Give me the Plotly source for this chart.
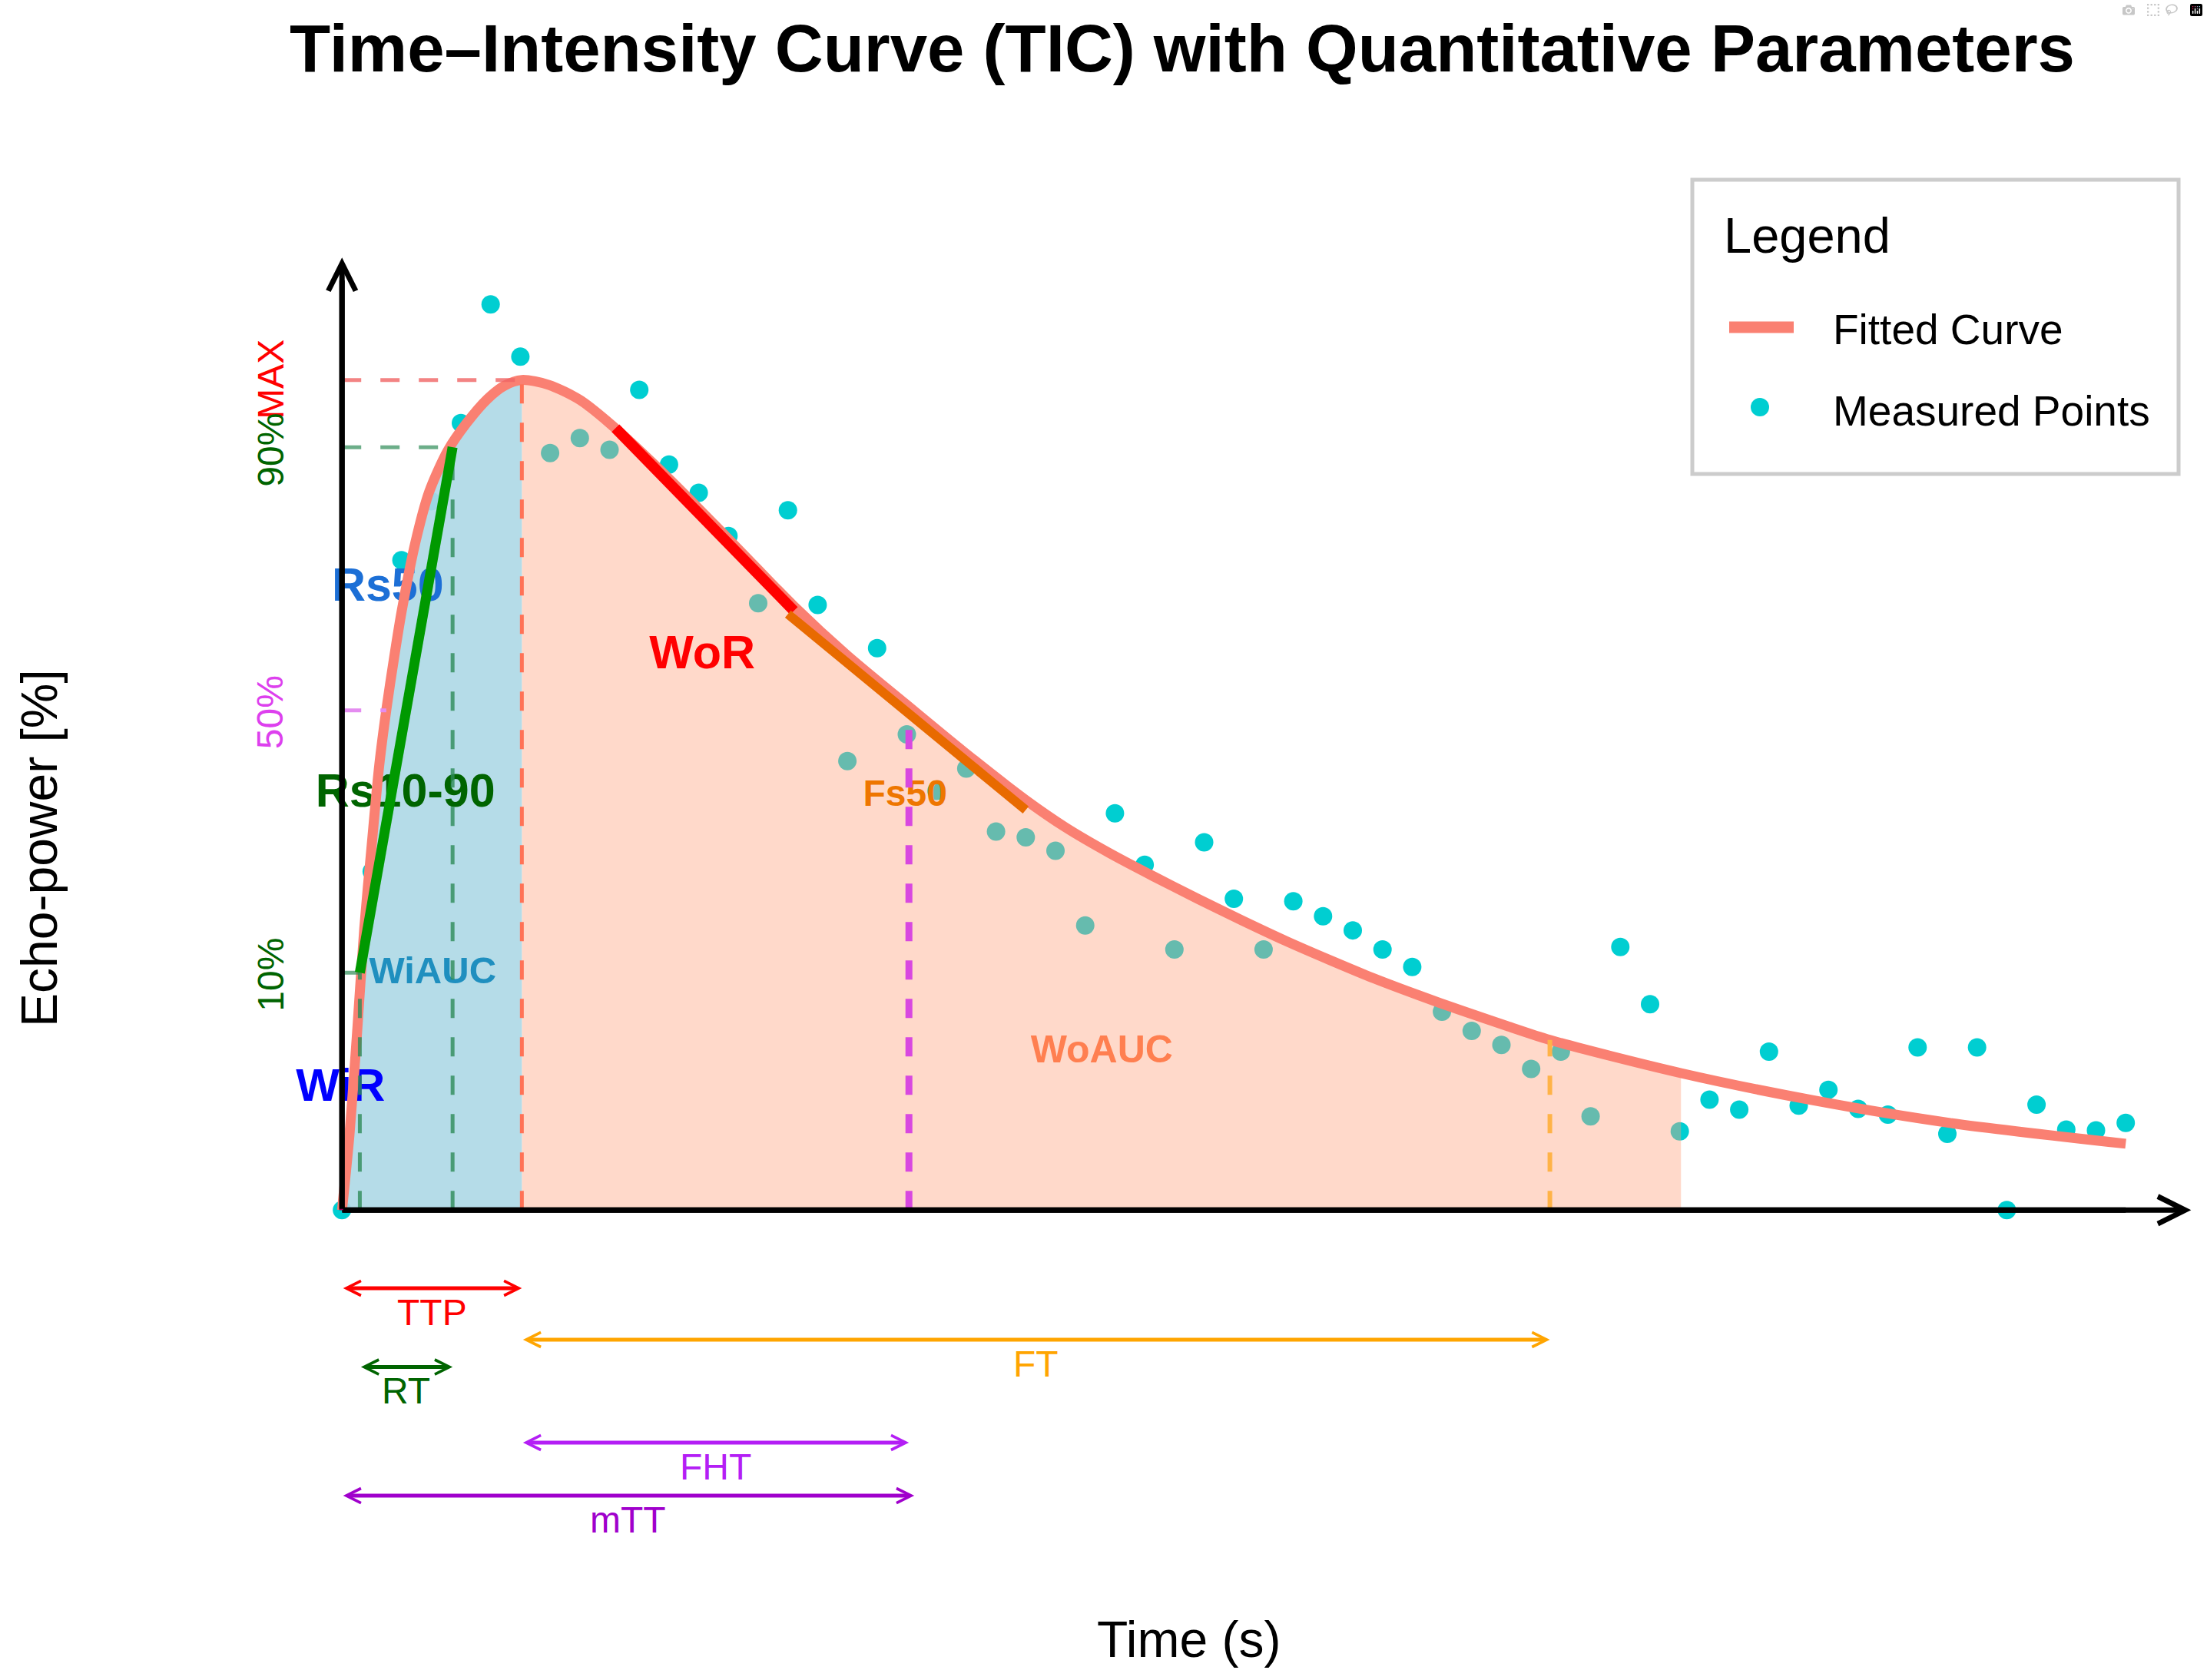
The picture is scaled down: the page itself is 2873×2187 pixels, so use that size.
import plotly.graph_objects as go

W, H = 2873, 2187
FONT = "Liberation Sans, Arial, sans-serif"

# measured echo-power samples, one per second
time_s = list(range(61))
echo_pct = [0.0, 40.8, 78.3, 85.4, 94.8, 109.1, 102.8, 91.2, 93.0, 91.6,
            98.8, 89.8, 86.4, 81.2, 73.1, 84.3, 72.9, 54.1, 67.7, 57.3,
            50.5, 53.2, 45.6, 44.9, 43.3, 34.3, 47.8, 41.6, 31.4, 44.3,
            37.5, 31.4, 37.2, 35.4, 33.7, 31.4, 29.3, 23.9, 21.6, 19.9,
            17.0, 19.1, 11.3, 31.7, 24.8, 9.5, 13.3, 12.1, 19.1, 12.6,
            14.5, 12.2, 11.5, 19.6, 9.2, 19.6, 0.0, 12.7, 9.7, 9.6, 10.5]

# fitted curve
fit_t = [0, 0.25, 0.5, 0.75, 1.0, 1.25, 1.5, 1.75, 2.0, 2.46, 2.93, 3.56, 4.19, 4.89,
         5.46, 6.05, 6.96, 8.0, 9.06, 11.03, 12.52, 13.8, 15.19, 16.97, 18.95, 20.92,
         23.0, 24.34, 25.82, 27.3, 28.79, 30.27, 31.76, 33.24, 34.72, 36.2, 37.69,
         39.17, 40.63, 45.04, 49.53, 54.09, 60.0]
fit_y = [0, 9, 21, 34, 44, 53.5, 60.5, 66.5, 72.0, 80.3, 86.5, 91.5, 94.8, 97.7,
         99.3, 100, 99.4, 97.6, 94.6, 88.0, 82.6, 77.9, 72.8, 66.9, 61.0, 55.2,
         49.4, 46.1, 43.0, 40.2, 37.5, 34.9, 32.4, 30.1, 27.9, 25.9, 24.0,
         22.2, 20.5, 16.5, 13.2, 10.5, 8.0]

# quantitative parameters
TTP = 6.05          # time to peak
T10, T90 = 0.6, 3.72
T50_FALL = 19.07
MTT = 19.25
FT_END = 40.63
WO_END = 45.04
WIR_TOP = 20.5
level_names = ["MAX", "90%", "50%", "10%"]
level_vals = [100, 91.9, 60.2, 28.6]
level_cross = [TTP, T90, 1.49, T10]   # where each level meets the curve

wor_t, wor_y = [9.2, 15.2], [94.2, 72.2]
fs50_t, fs50_y = [15.0, 23.0], [71.8, 48.2]
rs_t, rs_y = [T10, T90], [28.6, 91.9]

span_names = ["TTP", "FT", "RT", "FHT", "mTT"]
span_start = [0, TTP, T10, TTP, 0]
span_end = [TTP, FT_END, T90, T50_FALL, MTT]

label_names = ["Rs50", "Rs10-90", "WiAUC", "WiR", "WoR", "Fs50", "WoAUC"]
label_t = [1.54, 2.13, 3.05, -0.05, 12.12, 18.94, 25.56]
label_y = [74.8, 50.0, 28.5, 14.6, 66.7, 49.8, 19.0]

fig = go.Figure()

# points first, fills go over them (tinted look inside the areas)
fig.add_trace(go.Scatter(x=time_s, y=echo_pct, mode="markers", name="Measured Points",
                         marker=dict(size=24, color="#00CED1"), showlegend=False))

wi_t = [t for t in fit_t if t <= TTP]
wi_y = fit_y[:len(wi_t)]
wo_t = [t for t in fit_t if TTP <= t <= WO_END]
i0 = fit_t.index(TTP)
wo_y = fit_y[i0:i0 + len(wo_t)]

fig.add_trace(go.Scatter(x=wo_t, y=wo_y, mode="lines", fill="tozeroy",
                         fillcolor="rgba(255,160,122,0.4)",
                         line=dict(width=0, shape="spline", smoothing=0.8),
                         showlegend=False, hoverinfo="skip"))
fig.add_trace(go.Scatter(x=wi_t, y=wi_y, mode="lines", fill="tozeroy",
                         fillcolor="rgba(173,216,230,0.9)",
                         line=dict(width=0, shape="spline", smoothing=0.8),
                         showlegend=False, hoverinfo="skip"))

# parameter labels sit under the lines, like in the original
label_col = ["#1C6FD6", "#006400", "#1F8FBF", "#0000FF", "#FF0000", "#EE7600", "#FF7F50"]
label_size = [61, 61, 49, 60, 61, 48, 50]
fig.add_trace(go.Scatter(x=label_t, y=label_y, mode="text", text=label_names,
                         textposition="middle center",
                         textfont=dict(family=FONT, size=label_size, color=label_col,
                                       weight="bold"),
                         showlegend=False, hoverinfo="skip"))

fig.add_trace(go.Scatter(x=fit_t, y=fit_y, mode="lines", name="Fitted Curve",
                         line=dict(color="#FA8072", width=13, shape="spline", smoothing=0.8),
                         showlegend=False))

# guide lines
dash = "25px,25px"
guide_col = ["rgba(240,100,100,0.8)", "rgba(46,139,87,0.7)", "#E48CF0", "rgba(46,139,87,0.7)"]
for val, end, col in zip(level_vals, level_cross, guide_col):
    fig.add_trace(go.Scatter(x=[0, end], y=[val, val], mode="lines",
                             line=dict(color=col, width=5, dash=dash),
                             showlegend=False, hoverinfo="skip"))

vlines = [(T10, level_vals[3], "rgba(46,139,87,0.8)", 5),
          (T90, level_vals[1], "rgba(46,139,87,0.8)", 5),
          (TTP, level_vals[0], "#FF7256", 5),
          (T50_FALL, 60.0, "#D848E0", 9),
          (FT_END, 20.5, "#FFB347", 6)]
for xv, top, col, w in vlines:
    fig.add_trace(go.Scatter(x=[xv, xv], y=[0, top], mode="lines",
                             line=dict(color=col, width=w, dash=dash),
                             showlegend=False, hoverinfo="skip"))

# slope segments
for xs, ys, col, w in [(rs_t, rs_y, "#009900", 13), (wor_t, wor_y, "#FF0000", 14),
                       (fs50_t, fs50_y, "#E86A00", 12)]:
    fig.add_trace(go.Scatter(x=xs, y=ys, mode="lines", line=dict(color=col, width=w),
                             showlegend=False, hoverinfo="skip"))

# axis lines as traces so the wash-in dashes can sit on top of the y axis
fig.add_trace(go.Scatter(x=[0, 0], y=[0, 112], mode="lines", line=dict(color="black", width=7),
                         showlegend=False, hoverinfo="skip"))
fig.add_trace(go.Scatter(x=[0, 60], y=[0, 0], mode="lines", line=dict(color="black", width=7),
                         showlegend=False, hoverinfo="skip"))
fig.add_trace(go.Scatter(x=[0, 0], y=[0, WIR_TOP], mode="lines",
                         line=dict(color="#99005F", width=6, dash="20px,15px"),
                         showlegend=False, hoverinfo="skip"))

ann = []
# axis arrows
ann.append(dict(x=62.2, y=0, ax=0, ay=0, xref="x", yref="y", axref="x", ayref="y",
                text="", showarrow=True, arrowhead=5, arrowwidth=7, arrowsize=1,
                arrowcolor="black"))
ann.append(dict(x=0, y=114.75, ax=0, ay=0, xref="x", yref="y", axref="x", ayref="y",
                text="", showarrow=True, arrowhead=5, arrowwidth=7, arrowsize=1,
                arrowcolor="black"))

# double-headed time spans under the axis
span_y = [-9.4, -15.6, -18.9, -28.0, -34.4]
span_col = ["#FF0000", "#FFA500", "#006400", "#B41EF5", "#A000CC"]
for name, t0, t1, yy, col in zip(span_names, span_start, span_end, span_y, span_col):
    ann.append(dict(x=t1, y=yy, ax=t0, ay=yy, xref="x", yref="y", axref="x", ayref="y",
                    text="", showarrow=True, arrowside="end+start", arrowhead=5,
                    startarrowhead=5, arrowwidth=5, arrowsize=0.75, startarrowsize=0.75,
                    arrowcolor=col))
    ann.append(dict(x=(t0 + t1) / 2, y=yy - 2.9, xref="x", yref="y", text=name,
                    showarrow=False, yanchor="middle",
                    font=dict(family=FONT, size=48, color=col)))

# level labels beside the y axis
level_col = ["#FF0000", "#006400", "#DD40EE", "#006400"]
level_pos = [100.1, 91.6, 60.0, 28.4]
for name, yy, col in zip(level_names, level_pos, level_col):
    ann.append(dict(x=-2.4, y=yy, xref="x", yref="y", text=name, textangle=-90,
                    showarrow=False, yanchor="middle",
                    font=dict(family=FONT, size=48, color=col)))

# axis titles
ann.append(dict(x=-10.19, y=43.6, xref="x", yref="y", text="Echo-power [%]", textangle=-90,
                showarrow=False, yanchor="middle",
                font=dict(family=FONT, size=66, color="black")))
ann.append(dict(x=28.5, y=-51.7, xref="x", yref="y", text="Time (s)",
                showarrow=False, yanchor="middle",
                font=dict(family=FONT, size=66, color="black")))


# legend box drawn by hand (paper coords from pixels)
def px(v):
    return v / W


def py(v):
    return 1 - v / H


shapes = [
    dict(type="rect", xref="paper", yref="paper", x0=px(2203), x1=px(2836),
         y0=py(617), y1=py(234), line=dict(color="#CCCCCC", width=5), fillcolor="white"),
    dict(type="line", xref="paper", yref="paper", x0=px(2251), x1=px(2335),
         y0=py(426), y1=py(426), line=dict(color="#FA8072", width=15)),
    dict(type="circle", xref="paper", yref="paper", x0=px(2279), x1=px(2303),
         y0=py(542), y1=py(518), fillcolor="#00CED1", line=dict(width=0)),
]
legend_txt = [("Legend", 2242, 306, 65), ("Fitted Curve", 2384, 429, 55),
              ("Measured Points", 2384, 535, 55)]
for txt, lx, ly, sz in legend_txt:
    ann.append(dict(x=px(lx), y=py(ly), xref="paper", yref="paper", text=txt,
                    xanchor="left", yanchor="middle", showarrow=False,
                    font=dict(family=FONT, size=sz, color="black")))

fig.update_layout(
    width=W, height=H,
    margin=dict(l=0, r=0, t=0, b=0),
    paper_bgcolor="white", plot_bgcolor="white",
    showlegend=False,
    title=dict(text="Time\u2013Intensity Curve (TIC) with Quantitative Parameters",
               x=px(1539), y=py(63), xanchor="center", yanchor="middle",
               xref="paper", yref="paper",
               font=dict(family=FONT, size=87, color="black", weight="bold")),
    xaxis=dict(range=[-11.504, 62.734], visible=False, fixedrange=True),
    yaxis=dict(range=[-56.60, 145.77], visible=False, fixedrange=True),
    annotations=ann,
    shapes=shapes,
)

fig.write_html("out.html", post_script="document.body.style.margin='0px';document.body.style.overflow='hidden';")
